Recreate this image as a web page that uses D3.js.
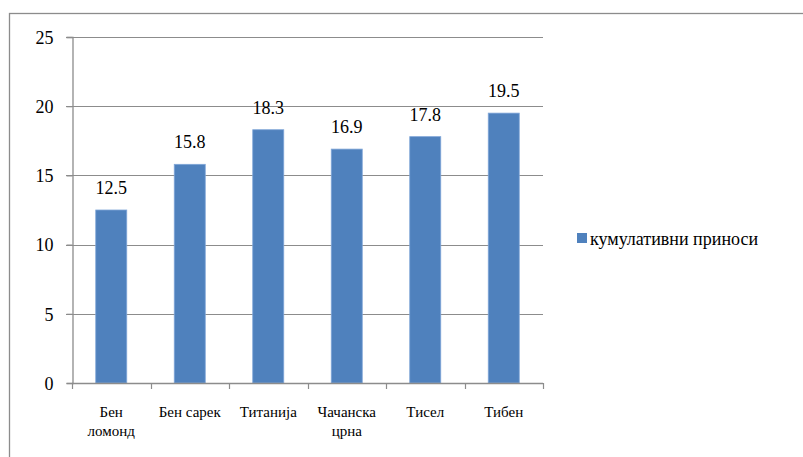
<!DOCTYPE html>
<html>
<head>
<meta charset="utf-8">
<script src="https://cdn.jsdelivr.net/npm/d3@7"></script>
</head>
<body style="margin:0">
<script>
// Cultivars and their cumulative yields
const categories = [["Бен", "ломонд"], ["Бен сарек"], ["Титанија"], ["Чачанска", "црна"], ["Тисел"], ["Тибен"]];
const values = [12.5, 15.8, 18.3, 16.9, 17.8, 19.5];
const yTicks = [0, 5, 10, 15, 20, 25];
const seriesName = "кумулативни приноси";

const W = 803, H = 457;
const plot = { left: 72, right: 543, top: 37, bottom: 383 };
const barColor = "#4F81BD";
const lineColor = "#8C8C8C";
const serif = "Liberation Serif";

const svg = d3.select("body").append("svg").attr("width", W).attr("height", H);

// Outer chart frame
svg.append("rect")
  .attr("x", 9.5).attr("y", 13.5)
  .attr("width", W + 20).attr("height", H + 20)
  .attr("fill", "none").attr("stroke", lineColor).attr("stroke-width", 1.3);

const x = d3.scaleBand()
  .domain(d3.range(categories.length))
  .range([plot.left, plot.right])
  .paddingInner(0.605).paddingOuter(0.3025);

const y = d3.scaleLinear().domain([0, 25]).range([plot.bottom, plot.top]);

// Horizontal gridlines with the left tick marks
svg.append("g").selectAll("line").data(yTicks.filter(t => t > 0)).join("line")
  .attr("x1", plot.left - 6).attr("x2", plot.right)
  .attr("y1", d => Math.round(y(d)) + 0.5).attr("y2", d => Math.round(y(d)) + 0.5)
  .attr("stroke", lineColor).attr("stroke-width", 1.2);

// Y axis (drawn by d3.axisLeft, then restyled)
const yAxis = d3.axisLeft(y).tickValues(yTicks).tickSize(6).tickPadding(13).tickFormat(d3.format("d"));
const gy = svg.append("g").attr("transform", `translate(${plot.left + 0.5},0)`).call(yAxis);
gy.attr("font-family", serif).attr("font-size", 18);
gy.select(".domain").attr("stroke", lineColor).attr("stroke-width", 1.3);
gy.selectAll(".tick line").attr("stroke", lineColor).attr("stroke-width", 1.2);
gy.selectAll(".tick text")
  .style("font-family", `"${serif}"`).style("font-size", "18px")
  .attr("dy", "0.35em").attr("fill", "#000");

// Bars
svg.append("g").selectAll("rect").data(values).join("rect")
  .attr("x", (d, i) => x(i))
  .attr("y", d => y(d))
  .attr("width", x.bandwidth())
  .attr("height", d => y(0) - y(d))
  .attr("fill", barColor)
  .attr("stroke", "#7FA6D8").attr("stroke-width", 0.8);

// Value labels
svg.append("g").selectAll("text").data(values).join("text")
  .style("font-family", `"${serif}"`).style("font-size", "18px")
  .attr("x", (d, i) => x(i) + x.bandwidth() / 2)
  .attr("y", d => y(d) - 16)
  .attr("text-anchor", "middle")
  .text(d => d3.format(".1f")(d));

// X axis with ticks at category boundaries
const step = (plot.right - plot.left) / categories.length;
const gx = svg.append("g");
gx.append("line")
  .attr("x1", plot.left).attr("x2", plot.right)
  .attr("y1", plot.bottom + 0.5).attr("y2", plot.bottom + 0.5)
  .attr("stroke", lineColor).attr("stroke-width", 1.3);
gx.selectAll("line.tk").data(d3.range(categories.length + 1)).join("line")
  .attr("class", "tk")
  .attr("x1", i => Math.round(plot.left + i * step) + 0.5)
  .attr("x2", i => Math.round(plot.left + i * step) + 0.5)
  .attr("y1", plot.bottom).attr("y2", plot.bottom + 6)
  .attr("stroke", lineColor).attr("stroke-width", 1.2);

// Category labels, one text per line
const catLines = categories.flatMap((lines, i) => lines.map((s, j) => ({ s, i, j })));
gx.selectAll("text.cat").data(catLines).join("text")
  .attr("class", "cat")
  .style("font-family", `"${serif}"`).style("font-size", "15px")
  .attr("text-anchor", "middle")
  .attr("x", d => x(d.i) + x.bandwidth() / 2)
  .attr("y", d => plot.bottom + 34 + d.j * 19)
  .text(d => d.s);

// Legend
const lg = svg.append("g").attr("transform", "translate(577,233)");
lg.append("rect").attr("width", 10).attr("height", 10).attr("fill", barColor);
lg.append("text")
  .style("font-family", `"${serif}"`).style("font-size", "18px")
  .attr("x", 13).attr("y", 12).text(seriesName);
</script>
</body>
</html>
